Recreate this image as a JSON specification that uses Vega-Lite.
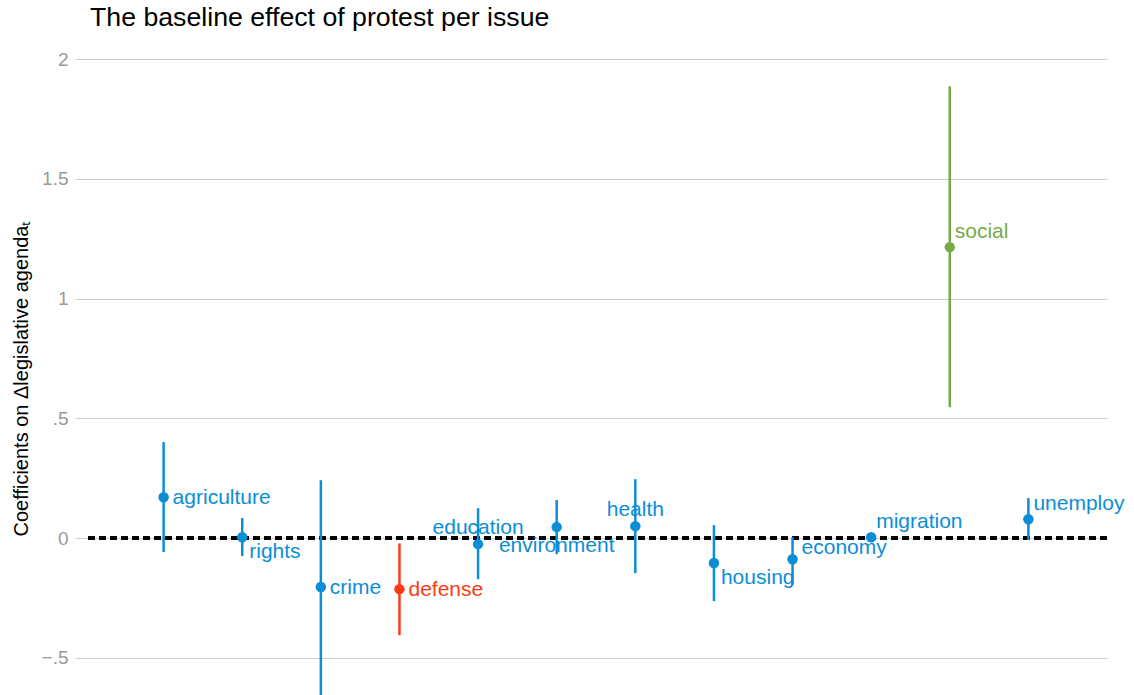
{
  "$schema": "https://vega.github.io/schema/vega-lite/v6.json",
  "autosize": {"type": "none"},
  "padding": {"left": 85, "top": 40, "right": 27, "bottom": 0},
  "width": 1022,
  "height": 655,
  "background": "white",
  "config": {
    "view": {"stroke": null},
    "font": "Liberation Sans"
  },
  "title": {
    "text": "The baseline effect of protest per issue",
    "anchor": "start",
    "frame": "group",
    "fontSize": 26.7,
    "fontWeight": "normal",
    "color": "black",
    "offset": 8,
    "dx": 5
  },
  "data": {
    "values": [
      {"issue": "agriculture", "coef": 0.171, "lo": -0.058, "hi": 0.401, "sig": "not significant"},
      {"issue": "rights", "coef": 0.004, "lo": -0.075, "hi": 0.084, "sig": "not significant"},
      {"issue": "crime", "coef": -0.204, "lo": -0.66, "hi": 0.242, "sig": "not significant"},
      {"issue": "defense", "coef": -0.213, "lo": -0.405, "hi": -0.022, "sig": "negative"},
      {"issue": "education", "coef": -0.025, "lo": -0.171, "hi": 0.125, "sig": "not significant"},
      {"issue": "environment", "coef": 0.046, "lo": -0.067, "hi": 0.159, "sig": "not significant"},
      {"issue": "health", "coef": 0.05, "lo": -0.146, "hi": 0.246, "sig": "not significant"},
      {"issue": "housing", "coef": -0.104, "lo": -0.263, "hi": 0.054, "sig": "not significant"},
      {"issue": "economy", "coef": -0.088, "lo": -0.195, "hi": 0.004, "sig": "not significant"},
      {"issue": "migration", "coef": 0.004, "lo": -0.01, "hi": 0.018, "sig": "not significant"},
      {"issue": "social", "coef": 1.215, "lo": 0.547, "hi": 1.887, "sig": "positive"},
      {"issue": "unemploy", "coef": 0.079, "lo": -0.008, "hi": 0.167, "sig": "not significant"}
    ]
  },
  "encoding": {
    "x": {"field": "issue", "type": "nominal", "sort": null, "scale": {"type": "point", "padding": 1}, "axis": null},
    "color": {
      "field": "sig", "type": "nominal",
      "scale": {"domain": ["not significant", "negative", "positive"], "range": ["#0b8ed6", "#fe3c14", "#76ab48"]},
      "legend": null
    }
  },
  "layer": [
    {
      "mark": {"type": "rule", "color": "black", "strokeWidth": 3, "strokeDash": [7, 4]},
      "encoding": {"y": {"datum": 0, "type": "quantitative"}, "x": null, "color": null}
    },
    {
      "mark": {"type": "rule", "strokeWidth": 2.5, "clip": true},
      "encoding": {
        "y": {
          "field": "lo", "type": "quantitative",
          "scale": {"domain": [-0.655, 2.08], "nice": false, "zero": false},
          "axis": {
            "values": [-0.5, 0, 0.5, 1, 1.5, 2],
            "labelExpr": "datum.value == 0.5 ? '.5' : datum.value == -0.5 ? '−.5' : format(datum.value, '~g')",
            "domain": false,
            "ticks": true,
            "tickColor": "#cccccc",
            "tickSize": 10,
            "tickWidth": 1,
            "grid": true,
            "gridColor": "#cccccc",
            "gridWidth": 1,
            "labelColor": "#999999",
            "labelFontSize": 19,
            "labelPadding": 7,
            "title": "Coefficients on Δlegislative agendaₜ",
            "titleFontSize": 20,
            "titleFontWeight": "normal",
            "titleColor": "black",
            "titlePadding": 10,
            "titleY": 338
          }
        },
        "y2": {"field": "hi"}
      }
    },
    {
      "mark": {"type": "point", "filled": true, "opacity": 1, "size": 110},
      "encoding": {"y": {"field": "coef", "type": "quantitative"}}
    },
    {
      "transform": [{"filter": {"field": "issue", "oneOf": ["agriculture", "crime", "defense"]}}],
      "mark": {"type": "text", "align": "left", "baseline": "middle", "dx": 9, "dy": 1, "fontSize": 21},
      "encoding": {"y": {"field": "coef", "type": "quantitative"}, "text": {"field": "issue"}}
    },
    {
      "transform": [{"filter": {"field": "issue", "oneOf": ["rights", "housing"]}}],
      "mark": {"type": "text", "align": "left", "baseline": "middle", "dx": 7, "dy": 15, "fontSize": 21},
      "encoding": {"y": {"field": "coef", "type": "quantitative"}, "text": {"field": "issue"}}
    },
    {
      "transform": [{"filter": {"field": "issue", "oneOf": ["migration", "unemploy", "social"]}}],
      "mark": {"type": "text", "align": "left", "baseline": "middle", "dx": 5, "dy": -15, "fontSize": 21},
      "encoding": {"y": {"field": "coef", "type": "quantitative"}, "text": {"field": "issue"}}
    },
    {
      "transform": [{"filter": {"field": "issue", "oneOf": ["economy"]}}],
      "mark": {"type": "text", "align": "left", "baseline": "middle", "dx": 9, "dy": -11, "fontSize": 21},
      "encoding": {"y": {"field": "coef", "type": "quantitative"}, "text": {"field": "issue"}}
    },
    {
      "transform": [{"filter": {"field": "issue", "oneOf": ["education", "health"]}}],
      "mark": {"type": "text", "align": "center", "baseline": "middle", "dx": 0, "dy": -16, "fontSize": 21},
      "encoding": {"y": {"field": "coef", "type": "quantitative"}, "text": {"field": "issue"}}
    },
    {
      "transform": [{"filter": {"field": "issue", "oneOf": ["environment"]}}],
      "mark": {"type": "text", "align": "center", "baseline": "middle", "dx": 0, "dy": 19, "fontSize": 21},
      "encoding": {"y": {"field": "coef", "type": "quantitative"}, "text": {"field": "issue"}}
    }
  ]
}
